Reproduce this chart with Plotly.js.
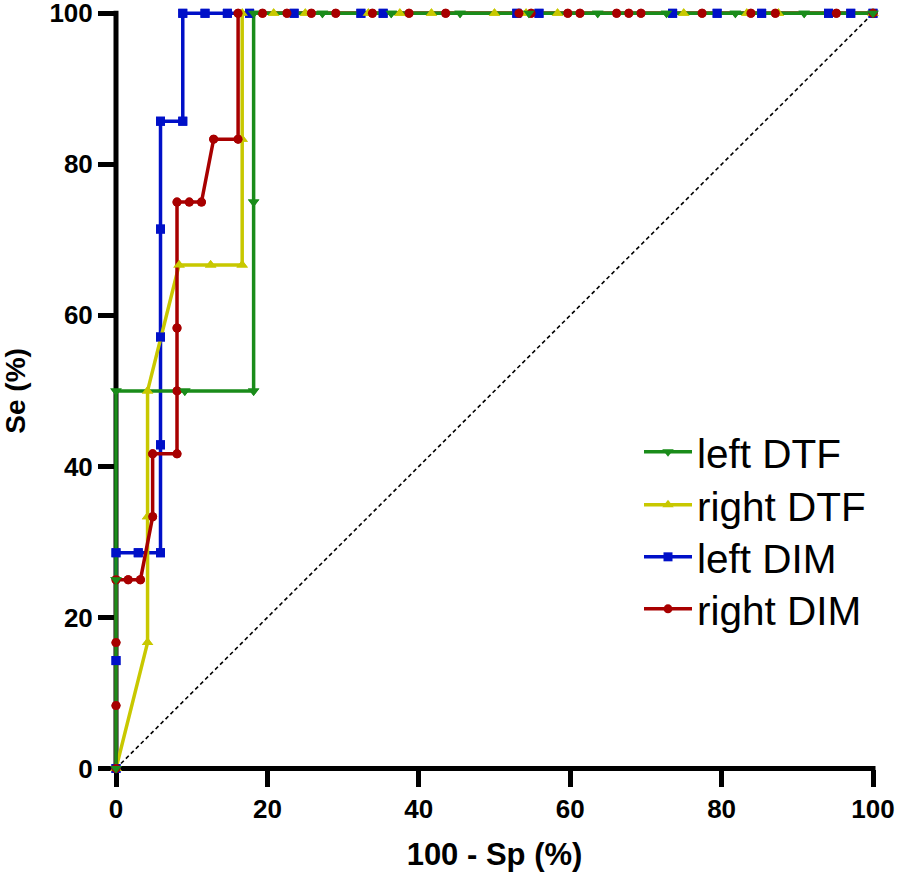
<!DOCTYPE html>
<html>
<head>
<meta charset="utf-8">
<script src="https://cdn.plot.ly/plotly-3.0.1.min.js"></script>
<style>html,body{margin:0;padding:0;background:#fff;}#chart{width:897px;height:874px;}</style>
</head>
<body>
<div id="chart"></div>
<script>
// ---- data ----
const seriesNames = ["left DTF", "right DTF", "left DIM", "right DIM"];

const leftDTF_x = [0, 0, 0, 9.09, 18.18, 18.18, 18.18, 27.27, 36.36, 45.45, 54.55, 63.64, 72.73, 81.82, 90.91, 100];
const leftDTF_y = [0, 25, 50, 50, 50, 75, 100, 100, 100, 100, 100, 100, 100, 100, 100, 100];

const rightDTF_x = [0, 4.17, 4.17, 4.17, 8.33, 12.5, 16.67, 16.67, 16.67, 20.83, 25, 33.33, 37.5, 41.67, 50, 54.17, 58.33, 75, 83.33, 87.5, 100];
const rightDTF_y = [0, 16.67, 33.33, 50, 66.67, 66.67, 66.67, 83.33, 100, 100, 100, 100, 100, 100, 100, 100, 100, 100, 100, 100, 100];

const leftDIM_x = [0, 0, 0, 2.94, 5.88, 5.88, 5.88, 5.88, 5.88, 8.82, 8.82, 11.76, 14.71, 17.65, 23.53, 32.35, 35.29, 52.94, 55.88, 73.53, 79.41, 85.29, 94.12, 97.06, 100];
const leftDIM_y = [0, 14.29, 28.57, 28.57, 28.57, 42.86, 57.14, 71.43, 85.71, 85.71, 100, 100, 100, 100, 100, 100, 100, 100, 100, 100, 100, 100, 100, 100, 100];

const rightDIM_x = [0, 0, 0, 0, 1.61, 3.23, 4.84, 4.84, 8.06, 8.06, 8.06, 8.06, 9.68, 11.29, 12.9, 16.13, 16.13, 19.35, 22.58, 25.81, 29.03, 33.87, 38.71, 43.55, 53.23, 54.84, 59.68, 61.29, 66.13, 67.74, 69.35, 77.42, 83.87, 87.1, 95.16, 100];
const rightDIM_y = [0, 8.33, 16.67, 25, 25, 25, 33.33, 41.67, 41.67, 50, 58.33, 75, 75, 75, 83.33, 83.33, 100, 100, 100, 100, 100, 100, 100, 100, 100, 100, 100, 100, 100, 100, 100, 100, 100, 100, 100, 100];

const refLine_x = [0, 100];
const refLine_y = [0, 100];

const xTicks = [0, 20, 40, 60, 80, 100];
const yTicks = [0, 20, 40, 60, 80, 100];
const xTitle = "100 - Sp (%)";
const yTitle = "Se (%)";

// ---- layout geometry ----
const W = 897, H = 874;
const PX0 = 116, PX100 = 873, PY0 = 768.5, PY100 = 13.3;
const sx = (PX100 - PX0) / 100, sy = (PY0 - PY100) / 100;
const LW = 5;

const colors = {
  green: "#1a8c1a",
  yellow: "#c8c800",
  blue: "#0010c8",
  red: "#a80000"
};

const FONT = "Liberation Sans, Arial, Helvetica, sans-serif";

// legend row centres (px from top), one legend per series
const legendRowY = [452, 505, 557, 609];

const series = [
  {x: leftDIM_x, y: leftDIM_y, name: seriesNames[2], color: colors.blue, symbol: "square", size: 9, row: 2},
  {x: rightDTF_x, y: rightDTF_y, name: seriesNames[1], color: colors.yellow, symbol: "triangle-up", size: 10, row: 1},
  {x: rightDIM_x, y: rightDIM_y, name: seriesNames[3], color: colors.red, symbol: "circle", size: 9, row: 3},
  {x: leftDTF_x, y: leftDTF_y, name: seriesNames[0], color: colors.green, symbol: "triangle-down", size: 10, row: 0}
];
const legendIds = ["legend", "legend2", "legend3", "legend4"];

// invisible anchor trace so that the tick/label axes (xy) are drawn
const traces = [{
  x: [xTicks[0], xTicks[xTicks.length - 1]], y: [yTicks[0], yTicks[yTicks.length - 1]],
  xaxis: "x", yaxis: "y", mode: "markers", marker: {opacity: 0, size: 1},
  showlegend: false, hoverinfo: "skip"
}, {
  x: refLine_x, y: refLine_y, xaxis: "x2", yaxis: "y2",
  mode: "lines", line: {color: "#000", width: 1.6, dash: "4px,3px"},
  showlegend: false, hoverinfo: "skip"
}];

series.forEach(s => {
  traces.push({
    x: s.x, y: s.y, xaxis: "x2", yaxis: "y2", name: s.name,
    mode: "lines+markers", legend: legendIds[s.row],
    line: {color: s.color, width: 3.5},
    marker: {color: s.color, symbol: s.symbol, size: s.size},
    cliponaxis: false
  });
});
series.forEach(s => {
  traces.push({
    x: s.x, y: s.y, xaxis: "x2", yaxis: "y2", name: s.name,
    mode: "markers", showlegend: false,
    marker: {color: s.color, symbol: s.symbol, size: s.size},
    cliponaxis: false
  });
});

const tickFont = {family: FONT, size: 26, color: "#000", weight: 700};

const layout = {
  width: W, height: H,
  margin: {l: 0, r: 0, t: 0, b: 0, pad: 0},
  paper_bgcolor: "#fff",
  plot_bgcolor: "rgba(0,0,0,0)",
  showlegend: true,
  xaxis: {
    domain: [PX0 / W, PX100 / W], range: [0, 100], anchor: "y",
    tickvals: xTicks, ticktext: xTicks.map(String),
    ticks: "outside", ticklen: 17, tickwidth: LW, tickcolor: "#000",
    showline: false, showgrid: false, zeroline: false,
    tickfont: tickFont, ticklabelstandoff: 0, ticklabeloverflow: "allow",
    title: {text: xTitle, font: {family: FONT, size: 31, color: "#000", weight: 700}, standoff: 20},
    fixedrange: true
  },
  yaxis: {
    domain: [1 - PY0 / H, 1 - PY100 / H], range: [0, 100], anchor: "x",
    tickvals: yTicks, ticktext: yTicks.map(String),
    ticks: "outside", ticklen: 17, tickwidth: LW, tickcolor: "#000",
    showline: false, showgrid: false, zeroline: false,
    tickfont: tickFont, ticklabelstandoff: 0, ticklabeloverflow: "allow",
    title: {text: yTitle, font: {family: FONT, size: 28, color: "#000", weight: 700}, standoff: 24},
    fixedrange: true
  },
  xaxis2: {
    domain: [0, 1], anchor: "y2",
    range: [(0 - PX0) / sx, (W - PX0) / sx],
    visible: false, fixedrange: true
  },
  yaxis2: {
    domain: [0, 1], anchor: "x2",
    range: [(PY0 - H) / sy, PY0 / sy],
    visible: false, fixedrange: true
  },
  shapes: [
    {type: "line", xref: "paper", yref: "paper", layer: "below",
     x0: PX0 / W, x1: PX0 / W, y0: 1 - (PY0 + LW / 2) / H, y1: 1 - (PY100 - LW / 2) / H,
     line: {color: "#000", width: LW}},
    {type: "line", xref: "paper", yref: "paper", layer: "below",
     x0: (PX0 - LW / 2) / W, x1: (PX100 + LW / 2) / W, y0: 1 - PY0 / H, y1: 1 - PY0 / H,
     line: {color: "#000", width: LW}}
  ]
};

legendIds.forEach((id, i) => {
  layout[id] = {
    x: 639 / W, xanchor: "left", y: 1 - legendRowY[i] / H, yanchor: "middle",
    bgcolor: "rgba(0,0,0,0)", borderwidth: 0,
    font: {family: FONT, size: 40.5, color: "#000"},
    itemwidth: 48
  };
});

Plotly.newPlot("chart", traces, layout, {displayModeBar: false, staticPlot: true});
</script>
</body>
</html>
